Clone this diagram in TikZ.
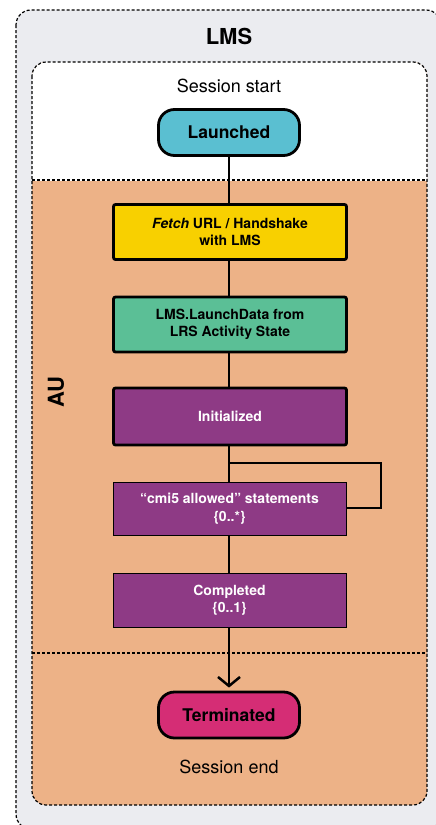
\documentclass[tikz,border=0pt]{standalone}
\usepackage{fontspec}
\setmainfont{TeX Gyre Heros}
\usetikzlibrary{arrows.meta}
\definecolor{lmsgray}{HTML}{EBECF0}
\definecolor{auorange}{HTML}{EDB287}
\definecolor{cyanfill}{HTML}{5ABFD1}
\definecolor{yellowfill}{HTML}{F8D000}
\definecolor{greenfill}{HTML}{5BBF96}
\definecolor{purplefill}{HTML}{8E3A85}
\definecolor{pinkfill}{HTML}{D52D75}
\tikzset{
  region/.style={draw=black, line width=1.2pt, dash pattern=on 3pt off 2pt},
  pill/.style={draw=black, line width=2.8pt, rounded corners=16pt, minimum width=141pt, minimum height=46pt, font=\fontsize{17.5}{20}\selectfont\bfseries, inner sep=0pt},
  thickbox/.style={draw=black, line width=2.8pt, rounded corners=2pt, minimum width=233pt, minimum height=55pt, align=center, font=\fontsize{14}{17.5}\selectfont\bfseries, inner sep=0pt},
  thinbox/.style={draw=black, line width=1pt, minimum width=233pt, minimum height=53pt, align=center, font=\fontsize{14}{17.5}\selectfont\bfseries, inner sep=0pt, fill=purplefill, text=white},
  link/.style={draw=black, line width=2.5pt},
  caption/.style={font=\fontsize{18}{20}\selectfont}
}
\begin{document}
\begin{tikzpicture}[x=1pt,y=-1pt]
\useasboundingbox (0,0) rectangle (436,825);
\begin{scope}
\clip (0,0) rectangle (436,825);
% outer LMS box
\fill[lmsgray, rounded corners=15pt] (16,10) rectangle (441,829);
\draw[region, rounded corners=15pt] (16,10) rectangle (441,829);
% inner box
\fill[auorange, rounded corners=14pt] (32,62) rectangle (427,805);
\begin{scope}
\clip (20,50) rectangle (440,180);
\fill[white, rounded corners=14pt] (32,62) rectangle (427,805);
\end{scope}
\draw[region, rounded corners=14pt] (32,62) rectangle (427,805);
\draw[region] (32,180) -- (427,180);
\draw[region] (32,653) -- (427,653);
\end{scope}

\node[font=\fontsize{22}{24}\selectfont\bfseries] (lms) at (229,36) {LMS};
\node[caption] (sstart) at (229,86) {Session start};
\node[font=\fontsize{22}{24}\selectfont\bfseries, rotate=90] (au) at (56,392) {AU};

\node[pill, fill=cyanfill] (launched) at (229,132.5) {Launched};
\node[thickbox, fill=yellowfill] (fetch) at (230,232) {\textit{Fetch} URL / Handshake\\with LMS};
\node[thickbox, fill=greenfill] (launchdata) at (230,324.5) {LMS.LaunchData from\\LRS Activity State};
\node[thickbox, fill=purplefill, text=white, minimum height=57pt] (init) at (230,416.5) {Initialized};
\node[thinbox] (cmi) at (229.5,508.5) {“cmi5 allowed” statements\\\{0..*\}};
\node[thinbox, minimum height=54pt] (completed) at (229.5,600) {Completed\\\{0..1\}};
\node[pill, fill=pinkfill] (terminated) at (229,715) {Terminated};
\node[caption] (send) at (229,767) {Session end};

\coordinate (split) at (229,463);
\coordinate (loopA) at (381,463);
\coordinate (loopB) at (381,508);

\draw[link] (launched.south -| 229,0) -- (fetch.north -| 229,0);
\draw[link] (fetch.south -| 229,0) -- (launchdata.north -| 229,0);
\draw[link] (launchdata.south -| 229,0) -- (init.north -| 229,0);
\draw[link] (init.south -| 229,0) -- (cmi.north -| 229,0);
\draw[link] (split) -- (loopA) -- (loopB) -- (cmi.east |- loopB);
\draw[link] (cmi.south -| 229,0) -- (completed.north -| 229,0);
\draw[link, -{Straight Barb[length=9pt,width=22pt,line width=2.5pt]}, shorten >=3pt] (completed.south -| 229,0) -- (terminated.north);
\end{tikzpicture}
\end{document}
